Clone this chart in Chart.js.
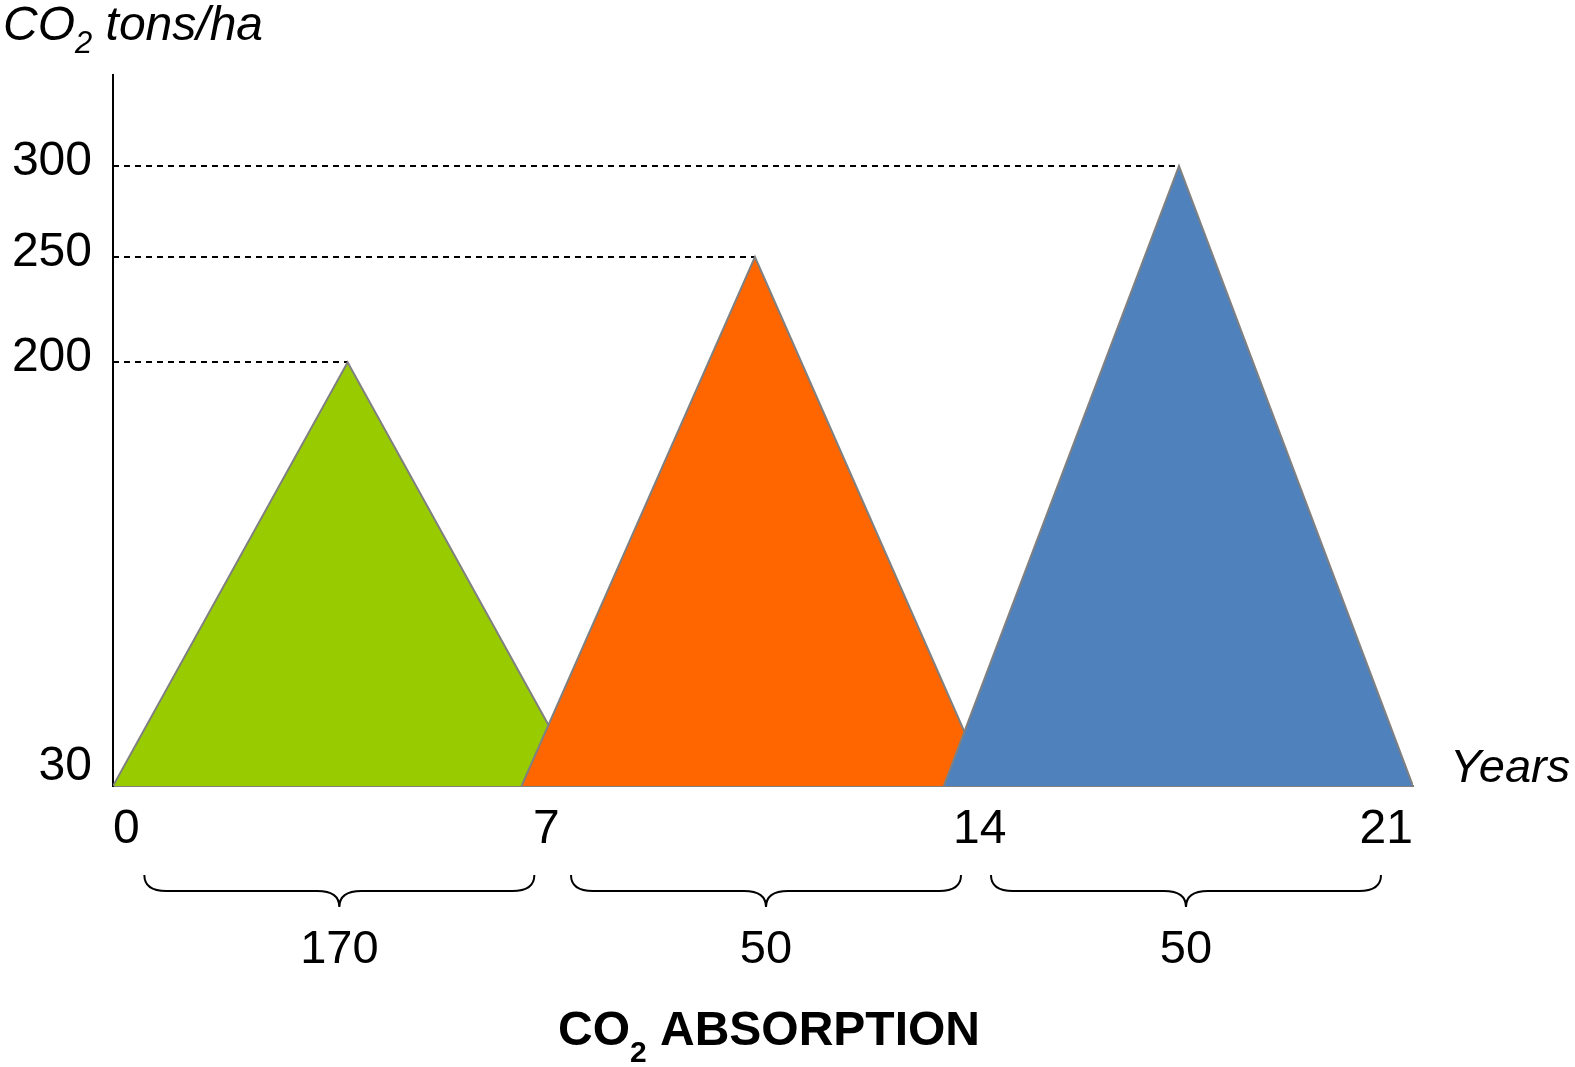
<!DOCTYPE html>
<html>
<head>
<meta charset="utf-8">
<script src="https://cdn.jsdelivr.net/npm/chart.js@4.4.1/dist/chart.umd.min.js"></script>
<style>
  html, body { margin: 0; padding: 0; background: #fff; }
  #wrap { position: relative; width: 1575px; height: 1067px; }
</style>
</head>
<body>
<div id="wrap"><canvas id="co2Chart"></canvas></div>
<script>
// three growth cycles: start year, peak year, end year, peak CO2 stock
const cycleNames = ['Cycle 1', 'Cycle 2', 'Cycle 3'];
const cycleStart = [0, 6.6, 13.42];
const cyclePeak = [3.79, 10.37, 17.22];
const cycleEnd = [7.58, 14.14, 21];
const peakValues = [200, 250, 300];
const baseValue = 30;
const cycleColors = ['#99CC00', '#FF6600', '#4F81BD'];

// absorption per 7-year period
const absorption = [170, 50, 50];

const xTicks = [0, 7, 14, 21];
const yTicks = [30, 200, 250, 300];

// the y axis is not linear in the original: each stop sits at its own height
const yStops = [30, 200, 250, 300, 350];
const yStopPos = [0, 0.596, 0.744, 0.872, 1];

const FONT = '"Liberation Sans", Arial, sans-serif';

function valueToDecimal(v) {
  for (let i = 1; i < yStops.length; i++) {
    if (v <= yStops[i] || i === yStops.length - 1) {
      const t = (v - yStops[i - 1]) / (yStops[i] - yStops[i - 1]);
      return yStopPos[i - 1] + t * (yStopPos[i] - yStopPos[i - 1]);
    }
  }
  return 0;
}

class StopScale extends Chart.LinearScale {
  getPixelForValue(value) {
    if (value === null || isNaN(value)) return NaN;
    return this.getPixelForDecimal(valueToDecimal(value));
  }
  getPixelForTick(index) {
    const px = super.getPixelForTick(index);
    // the "30" label sits on top of the baseline
    if (this.ticks[index] && this.ticks[index].value === baseValue) return px - 15;
    return px;
  }
}
StopScale.id = 'stops';
StopScale.defaults = { ticks: { callback: (v) => String(v) } };
Chart.register(StopScale);

// text with a subscript part
function drawParts(ctx, parts, x, y, align) {
  let total = 0;
  parts.forEach((p) => {
    ctx.font = p.font;
    p.w = ctx.measureText(p.text).width;
    total += p.w;
  });
  let cx = align === 'center' ? x - total / 2 : x;
  parts.forEach((p) => {
    ctx.font = p.font;
    ctx.fillText(p.text, cx, y + (p.dy || 0));
    cx += p.w;
  });
}

function drawBrace(ctx, x0, x1, top, mid, tip) {
  const xc = (x0 + x1) / 2;
  const r = 22;
  ctx.beginPath();
  ctx.moveTo(x0, top);
  ctx.quadraticCurveTo(x0, mid, x0 + r, mid);
  ctx.lineTo(xc - r, mid);
  ctx.quadraticCurveTo(xc, mid, xc, tip);
  ctx.quadraticCurveTo(xc, mid, xc + r, mid);
  ctx.lineTo(x1 - r, mid);
  ctx.quadraticCurveTo(x1, mid, x1, top);
  ctx.stroke();
}

const annotations = {
  id: 'annotations',
  beforeDatasetsDraw(chart) {
    const { ctx, scales: { x, y }, chartArea } = chart;
    ctx.save();
    ctx.strokeStyle = '#000';
    ctx.lineWidth = 2;
    ctx.setLineDash([6, 5]);
    peakValues.forEach((v, i) => {
      const py = Math.round(y.getPixelForValue(v));
      ctx.beginPath();
      ctx.moveTo(chartArea.left, py);
      ctx.lineTo(x.getPixelForValue(cyclePeak[i]), py);
      ctx.stroke();
    });
    ctx.restore();
  },
  afterDraw(chart) {
    const { ctx, scales: { x }, chartArea } = chart;
    ctx.save();
    ctx.fillStyle = '#000';
    ctx.textBaseline = 'alphabetic';
    ctx.textAlign = 'left';

    // y axis title
    drawParts(ctx, [
      { text: 'CO', font: 'italic 48px ' + FONT },
      { text: '2', font: 'italic 31px ' + FONT, dy: 13 },
      { text: ' tons/ha', font: 'italic 48px ' + FONT },
    ], 3, 40, 'left');

    // x axis title
    ctx.font = 'italic 47px ' + FONT;
    ctx.fillText('Years', 1450, chartArea.bottom - 4);

    // tick label centres (ticks are drawn with 'inner' alignment)
    ctx.font = '48px ' + FONT;
    const centres = xTicks.map((v, i) => {
      const px = x.getPixelForValue(v);
      const w = ctx.measureText(String(v)).width;
      if (i === 0) return px + w / 2;
      if (i === xTicks.length - 1) return px - w / 2;
      return px;
    });

    // braces and absorption values
    ctx.strokeStyle = '#000';
    ctx.lineWidth = 2;
    const half = 195;
    absorption.forEach((val, i) => {
      const xc = (centres[i] + centres[i + 1]) / 2 + 3;
      drawBrace(ctx, xc - half, xc + half, 875, 891, 907);
      ctx.font = '47px ' + FONT;
      ctx.textAlign = 'center';
      ctx.fillText(String(val), xc, 963);
    });

    // bottom title
    ctx.textAlign = 'left';
    drawParts(ctx, [
      { text: 'CO', font: 'bold 48px ' + FONT },
      { text: '2', font: 'bold 30px ' + FONT, dy: 17 },
      { text: ' ABSORPTION', font: 'bold 48px ' + FONT },
    ], 769, 1045, 'center');
    ctx.restore();
  },
};

const datasets = cycleNames.map((name, i) => ({
  label: name,
  data: [
    { x: cycleStart[i], y: baseValue },
    { x: cyclePeak[i], y: peakValues[i] },
    { x: cycleEnd[i], y: baseValue },
  ],
  backgroundColor: cycleColors[i],
  borderColor: '#808080',
  borderWidth: 2,
  fill: 'start',
  tension: 0,
  pointRadius: 0,
  order: cycleNames.length - i,
}));

const ctx = document.getElementById('co2Chart').getContext('2d');
new Chart(ctx, {
  type: 'line',
  data: { datasets },
  options: {
    responsive: true,
    maintainAspectRatio: false,
    animation: false,
    layout: { padding: { top: 75, right: 162, bottom: 0, left: 0 } },
    plugins: { legend: { display: false }, tooltip: { enabled: false } },
    scales: {
      x: {
        type: 'linear',
        min: 0,
        max: 21,
        afterBuildTicks: (s) => { s.ticks = xTicks.map((v) => ({ value: v })); },
        afterFit: (s) => { s.height = 281; },
        grid: { display: false, drawTicks: false },
        border: { display: true, color: '#808080', width: 2 },
        ticks: {
          align: 'inner',
          padding: 15,
          color: '#000',
          font: { family: FONT, size: 48 },
          maxRotation: 0,
          autoSkip: false,
        },
      },
      y: {
        type: 'stops',
        min: 30,
        max: 350,
        afterBuildTicks: (s) => { s.ticks = yTicks.map((v) => ({ value: v })); },
        afterFit: (s) => { s.width = 113; },
        grid: { display: false, drawTicks: false },
        border: { display: true, color: '#000', width: 2 },
        ticks: {
          padding: 21,
          labelOffset: -4,
          color: '#000',
          font: { family: FONT, size: 48 },
          autoSkip: false,
        },
      },
    },
  },
  plugins: [annotations],
});
</script>
</body>
</html>
